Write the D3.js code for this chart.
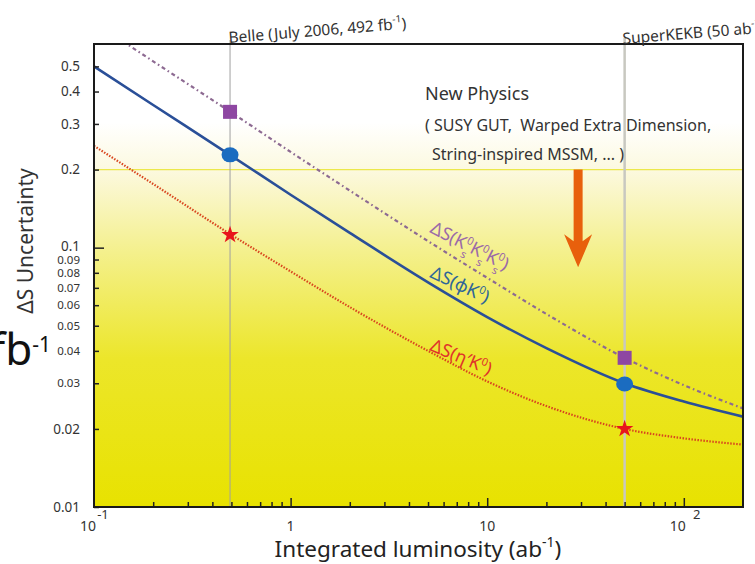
<!DOCTYPE html>
<html>
<head>
<meta charset="utf-8">
<script src="https://cdn.jsdelivr.net/npm/d3@7"></script>
<style>
body{margin:0;background:#fff;overflow:hidden;}
svg text{font-family:"Noto Sans",sans-serif;white-space:pre;}
</style>
</head>
<body>
<div id="chart"></div>
<script>
// luminosity (ab^-1) and the three projected uncertainties
var lumi   = [0.1, 0.2, 0.5, 1, 2, 5, 10, 20, 50, 100, 200];
var kskskS = [0.74, 0.523, 0.332, 0.234, 0.166, 0.106, 0.0765, 0.0555, 0.0376, 0.0295, 0.0240];
var phiK0  = [0.50, 0.355, 0.226, 0.160, 0.114, 0.0735, 0.054, 0.041, 0.030, 0.0255, 0.0223];
var etaK0  = [0.247, 0.176, 0.112, 0.081, 0.059, 0.040, 0.0305, 0.0245, 0.020, 0.0184, 0.0174];

var markLumi    = [0.492, 50];
var kskskSMarks = [0.334, 0.0376];
var phiMarks    = [0.228, 0.0298];
var etaMarks    = [0.112, 0.0200];

var yTicks  = [0.01, 0.02, 0.03, 0.04, 0.05, 0.06, 0.07, 0.08, 0.09, 0.1, 0.2, 0.3, 0.4, 0.5];
var yLabels = ["0.01","0.02","0.03","0.04","0.05","0.06","0.07","0.08","0.09","0.1","0.2","0.3","0.4","0.5"];
var xTicks  = [0.2,0.3,0.4,0.5,0.6,0.7,0.8,0.9,1,2,3,4,5,6,7,8,9,10,20,30,40,50,60,70,80,90,100];
var xMajor  = [0.1, 1, 10, 100];
var xBase   = ["10", "1", "10", "10"];
var xSup    = ["-1", "", "", "2"];

var npLevel = 0.2;          // new physics band edge
var arrowLumi = 29, arrowTo = 0.084;

function init(){
    var w = 755, h = 564;
    var left = 94, right = 743, top = 44, bottom = 507;

    var x = d3.scaleLog().domain([0.1, 200]).range([left, right]);
    var y = d3.scaleLog().domain([0.01, 0.61]).range([bottom, top]);

    var svg = d3.select("#chart").append("svg")
                .attr("width", w).attr("height", h);

    var defs = svg.append("defs");
    var grad = defs.append("linearGradient").attr("id", "bg")
                   .attr("x1", 0).attr("y1", 0).attr("x2", 0).attr("y2", 1);
    [[0, "#ffffff"], [0.17, "#ffffff"], [0.27, "#fcf9e0"], [0.45, "#f4f08c"],
     [0.68, "#ece62a"], [1, "#e8e200"]].forEach(function(s){
        grad.append("stop").attr("offset", s[0]).attr("stop-color", s[1]);
    });
    defs.append("clipPath").attr("id", "plot")
        .append("rect").attr("x", left).attr("y", top)
        .attr("width", right - left).attr("height", bottom - top);

    svg.append("rect").attr("x", left).attr("y", top)
       .attr("width", right - left).attr("height", bottom - top)
       .attr("fill", "url(#bg)");

    // 0.2 line
    svg.append("line").attr("x1", left).attr("x2", right)
       .attr("y1", y(npLevel)).attr("y2", y(npLevel))
       .attr("stroke", "#ece84a").attr("stroke-width", 1.2);

    // Belle and SuperKEKB lines
    svg.append("line").attr("x1", x(markLumi[0])).attr("x2", x(markLumi[0]))
       .attr("y1", 40).attr("y2", bottom)
       .attr("stroke", "#a0a0a0").attr("stroke-width", 1);
    svg.append("line").attr("x1", x(markLumi[1])).attr("x2", x(markLumi[1]))
       .attr("y1", 38).attr("y2", bottom)
       .attr("stroke", "#c8c8c0").attr("stroke-width", 2.5);

    var line = d3.line()
                 .x(function(d){ return x(d[0]); })
                 .y(function(d){ return y(d[1]); })
                 .curve(d3.curveMonotoneX);

    var curves = svg.append("g").attr("clip-path", "url(#plot)");
    curves.append("path").attr("d", line(d3.zip(lumi, kskskS)))
          .attr("fill", "none").attr("stroke", "#8d6a92").attr("stroke-width", 2.2)
          .attr("stroke-dasharray", "4,3,1.6,3");
    curves.append("path").attr("d", line(d3.zip(lumi, etaK0)))
          .attr("fill", "none").attr("stroke", "#d8461e").attr("stroke-width", 2.2)
          .attr("stroke-dasharray", "1.5,1.5");
    curves.append("path").attr("d", line(d3.zip(lumi, phiK0)))
          .attr("fill", "none").attr("stroke", "#2a4f98").attr("stroke-width", 2.6);

    // markers
    svg.selectAll("rect.sq").data(d3.zip(markLumi, kskskSMarks)).enter()
       .append("rect").attr("class", "sq")
       .attr("x", function(d){ return x(d[0]) - 7; })
       .attr("y", function(d){ return y(d[1]) - 7; })
       .attr("width", 14).attr("height", 14)
       .attr("fill", "#8e47a2");
    svg.selectAll("ellipse.ci").data(d3.zip(markLumi, phiMarks)).enter()
       .append("ellipse").attr("class", "ci")
       .attr("cx", function(d){ return x(d[0]); })
       .attr("cy", function(d){ return y(d[1]); })
       .attr("rx", 8.5).attr("ry", 7.5)
       .attr("fill", "#1b6cc0");
    svg.selectAll("path.st").data(d3.zip(markLumi, etaMarks)).enter()
       .append("path").attr("class", "st")
       .attr("d", d3.symbol(d3.symbolStar).size(95))
       .attr("transform", function(d){ return "translate(" + x(d[0]) + "," + y(d[1]) + ")"; })
       .attr("fill", "#e8141c");

    // arrow
    var ax = x(arrowLumi), a0 = y(npLevel), a1 = y(arrowTo);
    svg.append("path")
       .attr("d", "M" + (ax - 4.5) + "," + a0 + "L" + (ax + 4.5) + "," + a0 +
                  "L" + (ax + 4.5) + "," + (a1 - 26) + "L" + (ax + 14) + "," + (a1 - 33) +
                  "L" + ax + "," + a1 + "L" + (ax - 14) + "," + (a1 - 33) +
                  "L" + (ax - 4.5) + "," + (a1 - 26) + "Z")
       .attr("fill", "#e8600c");

    // axes
    var yAxis = d3.axisLeft(y).tickValues(yTicks)
                  .tickFormat(function(d, i){ return yLabels[i]; })
                  .tickSizeInner(-5).tickSizeOuter(0).tickPadding(14);
    var gy = svg.append("g").attr("transform", "translate(" + left + ",0)").call(yAxis);
    gy.select(".domain").remove();
    gy.selectAll(".tick line").attr("stroke", "#222").attr("stroke-width", 1.5)
      .attr("x2", function(d){ return d === 0.1 ? 10 : 5; });
    gy.selectAll(".tick text").attr("fill", "#333")
      .attr("font-size", function(d){ return (d > 0.025 && d < 0.095) ? 11.5 : 13.5; })
      .attr("dy", function(d){ return d === 0.1 ? "0.2em" : "0.32em"; })
      .attr("font-family", "Noto Sans");

    var xAxis = d3.axisBottom(x).tickValues(xTicks).tickFormat("")
                  .tickSizeInner(-5).tickSizeOuter(0);
    var gx = svg.append("g").attr("transform", "translate(0," + bottom + ")").call(xAxis);
    gx.select(".domain").remove();
    gx.selectAll(".tick line").attr("stroke", "#222").attr("stroke-width", 1.5)
      .attr("y2", function(d){ return xMajor.indexOf(d) >= 0 ? -9 : -5; });

    xMajor.forEach(function(v, i){
        var t = svg.append("text").attr("y", 531).attr("font-size", 14)
                   .attr("fill", "#333").attr("text-anchor", "middle");
        if (xSup[i]) {
            t.attr("x", x(v) - 6).text(xBase[i]);
            svg.append("text").attr("x", x(v) + (v < 1 ? 9 : 13)).attr("y", 519)
               .attr("font-size", 13).attr("fill", "#333").attr("text-anchor", "middle")
               .text(xSup[i]);
        } else {
            t.attr("x", x(v)).text(xBase[i]);
        }
    });

    // frame
    svg.append("rect").attr("x", left).attr("y", top)
       .attr("width", right - left).attr("height", bottom - top)
       .attr("fill", "none").attr("stroke", "#1a1a1a").attr("stroke-width", 2);

    // axis titles
    var xt = svg.append("text").attr("x", 418).attr("y", 557).attr("text-anchor", "middle")
                .attr("font-size", 22.5).attr("fill", "#222");
    xt.append("tspan").text("Integrated luminosity (ab");
    xt.append("tspan").attr("dy", -10).attr("font-size", 14).text("-1");
    xt.append("tspan").attr("dy", 10).text(")");

    svg.append("text").attr("transform", "translate(33,241) rotate(-90)")
       .attr("text-anchor", "middle").attr("font-size", 21).attr("fill", "#333")
       .text("\u0394S Uncertainty");

    // experiment labels
    var bl = svg.append("text").attr("transform", "translate(229,43) rotate(-4.6)")
                .attr("font-size", 15.5).attr("fill", "#333");
    bl.append("tspan").text("Belle (July 2006, 492 fb");
    bl.append("tspan").attr("dy", -7).attr("font-size", 10).text("-1");
    bl.append("tspan").attr("dy", 7).text(")");
    var sl = svg.append("text").attr("transform", "translate(623,44) rotate(-4.6)")
                .attr("font-size", 15.5).attr("fill", "#333");
    sl.append("tspan").text("SuperKEKB (50 ab");
    sl.append("tspan").attr("dy", -7).attr("font-size", 10).text("-1");
    sl.append("tspan").attr("dy", 7).text(")");

    // new physics text
    svg.append("text").attr("x", 425).attr("y", 100).attr("font-size", 18)
       .attr("fill", "#333").text("New Physics");
    svg.append("text").attr("x", 425).attr("y", 131).attr("font-size", 16)
       .attr("fill", "#333").text("( SUSY GUT,  Warped Extra Dimension,");
    svg.append("text").attr("x", 432).attr("y", 160).attr("font-size", 16)
       .attr("fill", "#333").text("String-inspired MSSM, ... )");

    // curve labels: [text, shift, dx]
    function curveLabel(tx, ty, ang, col, parts){
        var t = svg.append("text")
                   .attr("transform", "translate(" + tx + "," + ty + ") rotate(" + ang + ")")
                   .attr("font-size", 18).attr("fill", col);
        parts.forEach(function(p){
            t.append("tspan").attr("baseline-shift", p[1] || null)
             .attr("dx", p[2] || null)
             .attr("font-size", p[1] ? 11 : null).text(p[0]);
        });
    }
    curveLabel(429, 232, 27, "#9b6aa8",
        [["\u0394S(K"], ["0", "super"], ["s", "sub", -6], ["K", null, 1], ["0", "super"], ["s", "sub", -6],
         ["K", null, 1], ["0", "super"], ["s", "sub", -6], [")", null, 1]]);
    curveLabel(429, 277, 25, "#2e6598",
        [["\u0394S(\u03c6K"], ["0", "super"], [")"]]);
    curveLabel(429, 350, 23, "#e0342a",
        [["\u0394S(\u03b7\u2032K"], ["0", "super"], [")"]]);

    // leftover slide text
    var fb = svg.append("text").attr("x", -10).attr("y", 365).attr("font-size", 44)
                .attr("fill", "#111");
    fb.append("tspan").text("fb");
    fb.append("tspan").attr("dy", -13).attr("font-size", 21).text("-1");
}

window.onload = init;
</script>
</body>
</html>
